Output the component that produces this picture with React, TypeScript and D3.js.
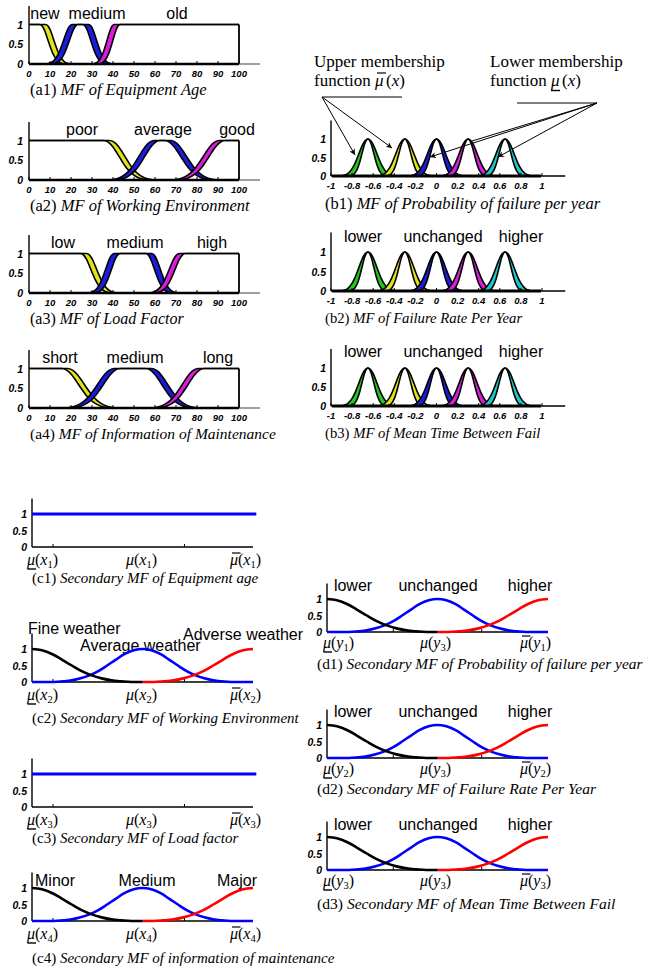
import React from "react";
import * as d3 from "d3";

const SANS = "'Liberation Sans', Arial, Helvetica, sans-serif";
const SERIF = "'Liberation Serif', 'Times New Roman', Times, serif";

// ---------- data ----------
const aTicks = [0, 10, 20, 30, 40, 50, 60, 70, 80, 90, 100];
const bTicks = [-1, -0.8, -0.6, -0.4, -0.2, 0, 0.2, 0.4, 0.6, 0.8, 1];
const yTicks = [0, 0.5, 1];
// membership value along one flank, from shoulder (u=0) to foot (u=1)
const bellProfile = [1, 0.96, 0.85, 0.68, 0.5, 0.33, 0.2, 0.11, 0.05, 0.02, 0];

type MF = [number | null, number | null, number | null, number | null];
// [left foot, left shoulder, right shoulder, right foot]
const a1Sets: MF[] = [[null, null, 6.5, 18], [10, 22, 27, 38], [32, 42, null, null]];
const a2Sets: MF[] = [[null, null, 37, 58], [40, 61, 66, 88], [70, 92, null, null]];
const a3Sets: MF[] = [[null, null, 26, 40], [30, 42, 57, 69], [59, 73, null, null]];
const a4Sets: MF[] = [[null, null, 17, 40], [19, 42, 57, 79], [60, 82, null, null]];
const a1Labels = ["new", "medium", "old"];
const a2Labels = ["poor", "average", "good"];
const a3Labels = ["low", "medium", "high"];
const a4Labels = ["short", "medium", "long"];
const aBandHalf = 1.4;

const bCenters = [-0.65, -0.3, 0, 0.3, 0.65];
const bSpreadUpper = 0.25;
const bSpreadLower = 0.165;
const bLabels = ["lower", "unchanged", "higher"];

const secCenters = [0, 0.5, 1];
const secSpreads = [0.45, 0.4, 0.45];
const c2Labels = ["Fine weather", "Average weather", "Adverse weather"];
const c4Labels = ["Minor", "Medium", "Major"];
const dLabels = ["lower", "unchanged", "higher"];

const titles = {
  a1: ["(a1) ", "MF of Equipment Age"],
  a2: ["(a2) ", "MF of Working Environment"],
  a3: ["(a3) ", "MF of Load Factor"],
  a4: ["(a4) ", "MF of Information of Maintenance"],
  b1: ["(b1) ", "MF of Probability of failure per year"],
  b2: ["(b2) ", "MF of Failure Rate Per Year"],
  b3: ["(b3) ", "MF of Mean Time Between Fail"],
  c1: ["(c1) ", "Secondary MF of Equipment age"],
  c2: ["(c2) ", "Secondary MF of Working Environment"],
  c3: ["(c3) ", "Secondary MF of Load factor"],
  c4: ["(c4) ", "Secondary MF of information of maintenance"],
  d1: ["(d1) ", "Secondary MF of Probability of failure per year"],
  d2: ["(d2) ", "Secondary MF of Failure Rate Per Year"],
  d3: ["(d3) ", "Secondary MF of Mean Time Between Fail"],
};

const aColors = ["#e2e21c", "#1c1ce0", "#d81ed8"];
const bColors = ["#22c822", "#e2e21c", "#1c1ce0", "#d81ed8", "#1ec8c8"];

// ---------- helpers ----------
type P = [number, number];
const N = bellProfile.length - 1;

function trapPts(set: MF, d: number, xmin: number, xmax: number): P[] {
  const [lf, ls, rs, rf] = set;
  const pts: P[] = [];
  if (ls === null || lf === null) pts.push([xmin, 1]);
  else for (let i = N; i >= 0; i--) pts.push([ls - d - (i / N) * (ls - lf), bellProfile[i]]);
  if (rs === null || rf === null) pts.push([xmax, 1]);
  else for (let i = 0; i <= N; i++) pts.push([rs + d + (i / N) * (rf - rs), bellProfile[i]]);
  return pts;
}

function bellPts(c: number, s: number, side: "both" | "left" | "right"): P[] {
  const pts: P[] = [];
  if (side !== "right") for (let i = N; i >= 0; i--) pts.push([c - (i / N) * s, bellProfile[i]]);
  if (side !== "left") for (let i = side === "right" ? 0 : 1; i <= N; i++) pts.push([c + (i / N) * s, bellProfile[i]]);
  return pts;
}

function Title({ x, y, t, fs }: { x: number; y: number; t: string[]; fs: number }) {
  return (
    <text x={x} y={y + 5} fontFamily={SERIF} fontSize={fs} fill="#000">
      <tspan>{t[0]}</tspan>
      <tspan fontStyle="italic">{t[1]}</tspan>
    </text>
  );
}

const tickFont = { fontFamily: SANS, fontSize: 9.5, fontWeight: 700, fontStyle: "italic" as const };
const yTickFont = { fontFamily: SANS, fontSize: 10.5, fontWeight: 700, fontStyle: "italic" as const };

function YTickLabels({ xr, y }: { xr: number; y: d3.ScaleLinear<number, number> }) {
  return (
    <g>
      {yTicks.map((t) => (
        <text key={t} x={xr} y={y(t) + 4} textAnchor="end" {...yTickFont}>
          {t}
        </text>
      ))}
    </g>
  );
}

// ---------- panel A ----------
function APanel({ y0, sets, labels, labelX, title, fs }: { y0: number; sets: MF[]; labels: string[]; labelX: number[]; title: string[]; fs: number }) {
  const x = d3.scaleLinear().domain([0, 100]).range([29, 239]);
  const y = d3.scaleLinear().domain([0, 1]).range([y0, y0 - 39.5]);
  const line = d3.line<P>().x((d) => x(d[0])).y((d) => y(d[1])).curve(d3.curveMonotoneX);
  const area = d3.area<P>().x((d) => x(d[0])).y0(y(0)).y1((d) => y(d[1])).curve(d3.curveMonotoneX);
  return (
    <g>
      {labels.map((l, i) => (
        <text key={l + i} x={labelX[i]} y={y0 - 45} textAnchor="middle" fontFamily={SANS} fontSize={16}>
          {l}
        </text>
      ))}
      {sets.map((s, i) => {
        const up = trapPts(s, aBandHalf, 0, 100);
        const lo = trapPts(s, -aBandHalf, 0, 100);
        return (
          <g key={i}>
            <path d={(area(up) || "") + (area(lo) || "")} fill={aColors[i]} fillRule="evenodd" />
            <path d={line(up) || ""} fill="none" stroke="#000" strokeWidth={1.6} />
            <path d={line(lo) || ""} fill="none" stroke="#000" strokeWidth={1.6} />
          </g>
        );
      })}
      <line x1={x(100)} x2={x(100)} y1={y(0)} y2={y(1)} stroke="#000" strokeWidth={1.8} />
      <line x1={x(0)} x2={x(0)} y1={y(0)} y2={y(1.47)} stroke="#000" strokeWidth={1.4} />
      <line x1={x(100)} x2={x(110)} y1={y(0)} y2={y(0)} stroke="#777" strokeWidth={1.4} />
      <line x1={x(0)} x2={x(100)} y1={y(0)} y2={y(0)} stroke="#000" strokeWidth={2.4} />
      {aTicks.map((t) => (
        <g key={t}>
          <line x1={x(t)} x2={x(t)} y1={y(0)} y2={y(0) - 3} stroke="#000" strokeWidth={1} />
          <text x={x(t)} y={y0 + 13} textAnchor="middle" {...tickFont}>
            {t}
          </text>
        </g>
      ))}
      <YTickLabels xr={23} y={y} />
      <Title x={30} y={y0 + 26} t={title} fs={fs} />
    </g>
  );
}

// ---------- panel B ----------
function BPanel({ y0, unit, labels, title, titleY, fs }: { y0: number; unit: number; labels: string[] | null; title: string[]; titleY: number; fs: number }) {
  const x = d3.scaleLinear().domain([-1, 1]).range([331, 542]);
  const y = d3.scaleLinear().domain([0, 1]).range([y0, y0 - unit]);
  const line = d3.line<P>().x((d) => x(d[0])).y((d) => y(d[1])).curve(d3.curveMonotoneX);
  const area = d3.area<P>().x((d) => x(d[0])).y0(y(0)).y1((d) => y(d[1])).curve(d3.curveMonotoneX);
  const bLabelX = [363, 443, 521];
  return (
    <g>
      {labels &&
        labels.map((l, i) => (
          <text key={l} x={bLabelX[i]} y={y0 - 49} textAnchor="middle" fontFamily={SANS} fontSize={16}>
            {l}
          </text>
        ))}
      {bCenters.map((c, i) => {
        const up = bellPts(c, bSpreadUpper, "both");
        const lo = bellPts(c, bSpreadLower, "both");
        return (
          <g key={i}>
            <path d={(area(up) || "") + (area(lo) || "")} fill={bColors[i]} fillRule="evenodd" />
            <path d={line(up) || ""} fill="none" stroke="#000" strokeWidth={1.6} />
            <path d={line(lo) || ""} fill="none" stroke="#000" strokeWidth={1.6} />
          </g>
        );
      })}
      <line x1={x(-1)} x2={x(-1)} y1={y(0)} y2={y(1.5)} stroke="#000" strokeWidth={1.4} />
      <line x1={x(-1)} x2={x(1.22)} y1={y(0)} y2={y(0)} stroke="#000" strokeWidth={1.4} />
      <line x1={x(-0.99)} x2={x(0.99)} y1={y(0)} y2={y(0)} stroke="#000" strokeWidth={3} />
      {bTicks.map((t) => (
        <g key={t}>
          <line x1={x(t)} x2={x(t)} y1={y(0)} y2={y(0) - 3} stroke="#000" strokeWidth={1} />
          <text x={x(t)} y={y0 + 13} textAnchor="middle" {...tickFont}>
            {t}
          </text>
        </g>
      ))}
      <YTickLabels xr={326} y={y} />
      <Title x={325} y={titleY} t={title} fs={fs} />
    </g>
  );
}

// ---------- mu labels ----------
function MuLabel({ cx, y, kind, v, sub }: { cx: number; y: number; kind: "under" | "plain" | "over"; v: string; sub: string }) {
  const sx = cx - 17;
  return (
    <g>
      <text x={sx} y={y} fontFamily={SERIF} fontSize={16} fill="#000">
        <tspan fontStyle="italic">μ</tspan>
        <tspan>(</tspan>
        <tspan fontStyle="italic">{v}</tspan>
        <tspan fontSize={10.5} dy={3}>
          {sub}
        </tspan>
        <tspan dy={-3}>)</tspan>
      </text>
      {kind === "under" && <line x1={sx + 0.5} x2={sx + 9} y1={y + 4} y2={y + 4} stroke="#000" strokeWidth={1.4} />}
      {kind === "over" && <line x1={sx + 2} x2={sx + 10.5} y1={y - 12} y2={y - 12} stroke="#000" strokeWidth={1.2} />}
    </g>
  );
}

// ---------- panel C / D ----------
type SecProps = {
  x0: number;
  y0: number;
  flat: boolean;
  labels: string[] | null;
  labelPos: [number, number, "start" | "middle"][];
  tickFr: number[];
  mu: { v: string; subs: string[] };
  muX: number[];
  muDy: number;
  title: string[];
  titleX: number;
  titleY: number;
  fs: number;
};

function SecPanel(p: SecProps) {
  const x = d3.scaleLinear().domain([0, 1]).range([p.x0, p.x0 + 221]);
  const y = d3.scaleLinear().domain([0, 1]).range([p.y0, p.y0 - 33]);
  const line = d3.line<P>().x((d) => x(d[0])).y((d) => y(d[1])).curve(d3.curveMonotoneX);
  const black: P[] = [...bellPts(secCenters[0], secSpreads[0], "right"), [0.5, 0]];
  const blue: P[] = [[0, 0], ...bellPts(secCenters[1], secSpreads[1], "both"), [1, 0]];
  const red: P[] = [[0.5, 0], ...bellPts(secCenters[2], secSpreads[2], "left")];
  return (
    <g>
      {p.labels &&
        p.labels.map((l, i) => (
          <text key={l} x={p.labelPos[i][0]} y={p.labelPos[i][1]} textAnchor={p.labelPos[i][2]} fontFamily={SANS} fontSize={16}>
            {l}
          </text>
        ))}
      <line x1={x(0)} x2={x(0)} y1={y(0)} y2={y(1.47)} stroke="#000" strokeWidth={1.4} />
      <line x1={x(0)} x2={x(1)} y1={y(0)} y2={y(0)} stroke="#000" strokeWidth={1.4} />
      {p.tickFr.map((t) => (
        <line key={t} x1={x(t)} x2={x(t)} y1={y(0)} y2={y(0) - 3} stroke="#000" strokeWidth={1} />
      ))}
      {p.flat ? (
        <line x1={x(0)} x2={x(1.015)} y1={y(1)} y2={y(1)} stroke="#0000ff" strokeWidth={3} />
      ) : (
        <g fill="none" strokeWidth={2.6}>
          <path d={line(blue) || ""} stroke="#0000ff" />
          <path d={line(black) || ""} stroke="#000" />
          <path d={line(red) || ""} stroke="#ff0000" />
        </g>
      )}
      <YTickLabels xr={p.x0 - 5} y={y} />
      <MuLabel cx={p.muX[0]} y={p.y0 + p.muDy} kind="under" v={p.mu.v} sub={p.mu.subs[0]} />
      <MuLabel cx={p.muX[1]} y={p.y0 + p.muDy} kind="plain" v={p.mu.v} sub={p.mu.subs[1]} />
      <MuLabel cx={p.muX[2]} y={p.y0 + p.muDy} kind="over" v={p.mu.v} sub={p.mu.subs[2]} />
      <Title x={p.titleX} y={p.titleY} t={p.title} fs={p.fs} />
    </g>
  );
}

function Annotations() {
  return (
    <g>
      <defs>
        <marker id="arr" viewBox="0 0 10 10" refX={10} refY={5} markerWidth={6} markerHeight={6} orient="auto">
          <path d="M0,0 L10,5 L0,10 L3,5 z" fill="#000" />
        </marker>
      </defs>
      <text x={314} y={67} fontFamily={SERIF} fontSize={17}>
        Upper membership
      </text>
      <text x={314} y={86} fontFamily={SERIF} fontSize={17}>
        function
      </text>
      <text x={375} y={86} fontFamily={SERIF} fontSize={17} fontStyle="italic">
        μ
      </text>
      <line x1={377} x2={386} y1={73} y2={73} stroke="#000" strokeWidth={1.2} />
      <text x={386} y={86} fontFamily={SERIF} fontSize={17}>
        (<tspan fontStyle="italic">x</tspan>)
      </text>
      <text x={490} y={67} fontFamily={SERIF} fontSize={17}>
        Lower membership
      </text>
      <text x={490} y={86} fontFamily={SERIF} fontSize={17}>
        function
      </text>
      <text x={551} y={86} fontFamily={SERIF} fontSize={17} fontStyle="italic">
        μ
      </text>
      <line x1={551} x2={560} y1={90.5} y2={90.5} stroke="#000" strokeWidth={1.4} />
      <text x={562} y={86} fontFamily={SERIF} fontSize={17}>
        (<tspan fontStyle="italic">x</tspan>)
      </text>
      <g stroke="#000" strokeWidth={1}>
        <line x1={322} x2={402} y1={97} y2={97} />
        <line x1={322} y1={97} x2={355} y2={155} markerEnd="url(#arr)" />
        <line x1={322} y1={97} x2={392} y2={148} markerEnd="url(#arr)" />
        <line x1={517} x2={597} y1={103} y2={103} />
        <line x1={597} y1={103} x2={430} y2={157} markerEnd="url(#arr)" />
        <line x1={597} y1={103} x2={472} y2={141} />
        <line x1={597} y1={103} x2={498} y2={157} markerEnd="url(#arr)" />
      </g>
    </g>
  );
}

export default function App() {
  const cMuX = [44, 143, 247];
  const dMuX = [340, 437, 537];
  const dLabelPos = (yb: number): [number, number, "start" | "middle"][] => [
    [353, yb, "middle"],
    [438, yb, "middle"],
    [530, yb, "middle"],
  ];
  const cFs = 15;
  const dFs = 15.6;
  return (
    <div style={{ position: "absolute", left: 0, top: 0, width: 650, height: 972, background: "#fff", overflow: "hidden" }}>
      <svg width={650} height={972} viewBox="0 0 650 972" style={{ display: "block" }}>
        <rect width={650} height={972} fill="#fff" />
        <APanel y0={64} sets={a1Sets} labels={a1Labels} labelX={[45, 97, 177]} title={titles.a1} fs={16.5} />
        <APanel y0={180} sets={a2Sets} labels={a2Labels} labelX={[82, 163, 237]} title={titles.a2} fs={16.5} />
        <APanel y0={293} sets={a3Sets} labels={a3Labels} labelX={[63, 135, 212]} title={titles.a3} fs={16} />
        <APanel y0={408} sets={a4Sets} labels={a4Labels} labelX={[60, 135, 218]} title={titles.a4} fs={15.5} />

        <Annotations />
        <BPanel y0={176} unit={37} labels={null} title={titles.b1} titleY={204} fs={16.5} />
        <BPanel y0={291} unit={39} labels={bLabels} title={titles.b2} titleY={318} fs={14.7} />
        <BPanel y0={406} unit={38} labels={bLabels} title={titles.b3} titleY={433} fs={14.7} />

        <SecPanel x0={32} y0={547} flat={true} labels={null} labelPos={[]} tickFr={[0.095, 0.69]} mu={{ v: "x", subs: ["1", "1", "1"] }} muX={cMuX} muDy={18} title={titles.c1} titleX={32} titleY={578} fs={cFs} />
        <SecPanel
          x0={32}
          y0={682}
          flat={false}
          labels={c2Labels}
          labelPos={[
            [28, 634, "start"],
            [80, 651, "start"],
            [183, 640, "start"],
          ]}
          tickFr={[0.095, 0.69]}
          mu={{ v: "x", subs: ["2", "2", "2"] }}
          muX={cMuX}
          muDy={18}
          title={titles.c2}
          titleX={32}
          titleY={718}
          fs={cFs}
        />
        <SecPanel x0={32} y0={807} flat={true} labels={null} labelPos={[]} tickFr={[0.095, 0.69]} mu={{ v: "x", subs: ["3", "3", "3"] }} muX={cMuX} muDy={18} title={titles.c3} titleX={32} titleY={838} fs={cFs} />
        <SecPanel
          x0={32}
          y0={921}
          flat={false}
          labels={c4Labels}
          labelPos={[
            [35, 886, "start"],
            [147, 886, "middle"],
            [237, 886, "middle"],
          ]}
          tickFr={[0.095, 0.69]}
          mu={{ v: "x", subs: ["4", "4", "4"] }}
          muX={cMuX}
          muDy={18}
          title={titles.c4}
          titleX={32}
          titleY={958}
          fs={cFs}
        />

        <SecPanel x0={327} y0={632} flat={false} labels={dLabels} labelPos={dLabelPos(591)} tickFr={[0.3, 0.7]} mu={{ v: "y", subs: ["1", "3", "1"] }} muX={dMuX} muDy={16} title={titles.d1} titleX={317} titleY={664} fs={15.4} />
        <SecPanel x0={327} y0={758} flat={false} labels={dLabels} labelPos={dLabelPos(717)} tickFr={[0.3, 0.7]} mu={{ v: "y", subs: ["2", "3", "2"] }} muX={dMuX} muDy={16} title={titles.d2} titleX={317} titleY={789} fs={dFs} />
        <SecPanel x0={327} y0={870} flat={false} labels={dLabels} labelPos={dLabelPos(830)} tickFr={[0.3, 0.7]} mu={{ v: "y", subs: ["3", "3", "3"] }} muX={dMuX} muDy={16} title={titles.d3} titleX={317} titleY={904} fs={dFs} />
      </svg>
    </div>
  );
}
